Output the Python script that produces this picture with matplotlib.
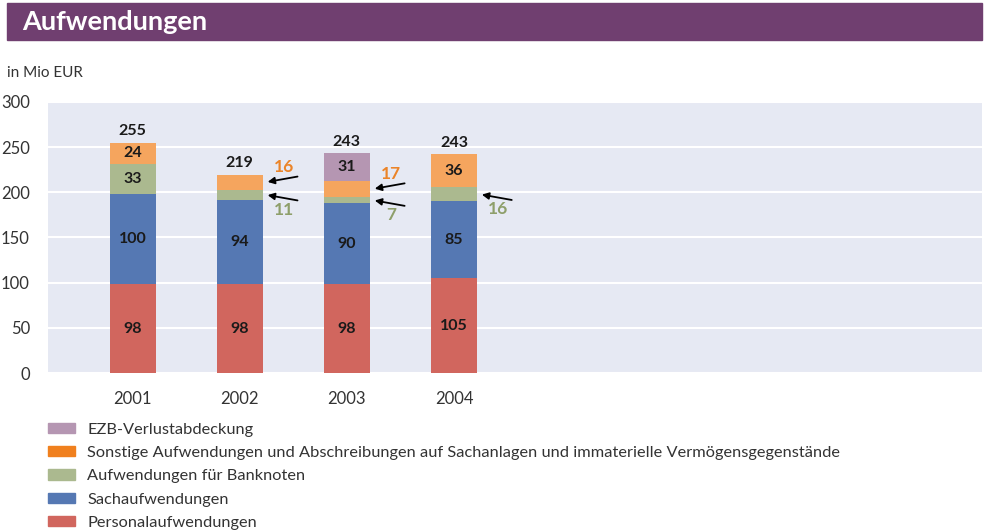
import numpy as np
import matplotlib.pyplot as plt
from matplotlib.patches import Patch, Rectangle

# ── Data ──────────────────────────────────────────────────────────────
years = ["2001", "2002", "2003", "2004"]
personal = [98, 98, 98, 105]
sach = [100, 94, 90, 85]
banknoten = [33, 11, 7, 16]
sonstige = [24, 16, 17, 36]
ezb = [0, 0, 31, 0]
totals = [255, 219, 243, 243]

legend_labels = [
    "EZB-Verlustabdeckung",
    "Sonstige Aufwendungen und Abschreibungen auf Sachanlagen und immaterielle Vermögensgegenstände",
    "Aufwendungen für Banknoten",
    "Sachaufwendungen",
    "Personalaufwendungen",
]

# ── Style ─────────────────────────────────────────────────────────────
plt.rcParams["font.family"] = ["Lato", "DejaVu Sans"]
C_PERS = "#D1665E"
C_SACH = "#5578B3"
C_BANK = "#ABB98F"
C_SONST = "#F5A55E"
C_EZB = "#B596B2"
C_SONST_LEG = "#F0801E"
C_ORANGE_TXT = "#EB8428"
C_GREEN_TXT = "#8E9F6A"
BG = "#E6E9F3"
PURPLE = "#703F70"

fig = plt.figure(figsize=(9.88, 5.31), dpi=100)

# title bar
fig.patches.append(Rectangle((7 / 988, 1 - 40 / 531), 975 / 988, 37 / 531,
                             transform=fig.transFigure, color=PURPLE, zorder=0))
fig.text(22 / 988, 1 - 22 / 531, "Aufwendungen", color="white", fontsize=19.5,
         fontweight="bold", va="center", ha="left")
fig.text(7 / 988, 1 - 73 / 531, "in Mio EUR", color="#333333", fontsize=11,
         va="center", ha="left")

ax = fig.add_axes([48 / 988, 1 - 373 / 531, 934 / 988, 271 / 531])
ax.set_facecolor(BG)
for s in ax.spines.values():
    s.set_visible(False)

x = np.arange(len(years))
w = 0.43
layers = [(personal, C_PERS), (sach, C_SACH), (banknoten, C_BANK),
          (sonstige, C_SONST), (ezb, C_EZB)]
bottom = np.zeros(len(years))
bottoms = []
for vals, col in layers:
    vals = np.array(vals, dtype=float)
    ax.bar(x, vals, w, bottom=bottom, color=col, zorder=3)
    bottoms.append(bottom.copy())
    bottom = bottom + vals

# inside labels (segments large enough)
for (vals, col), bot in zip(layers, bottoms):
    for i, v in enumerate(vals):
        if v >= 20:
            ax.text(x[i], bot[i] + v / 2, str(v), ha="center", va="center",
                    fontsize=11.5, fontweight="bold", color="#1a1a1a", zorder=4)

# totals above bars
for i, t in enumerate(totals):
    ax.text(x[i], bottom[i] + 13, str(t), ha="center", va="center",
            fontsize=11.5, fontweight="bold", color="#1a1a1a", zorder=4)

# outside labels with arrows for small segments
def callout(i, bot, v, text, color, up):
    yy = bot + v / 2
    dy = 7 if up else -7
    ax.annotate("", xy=(x[i] + w / 2 + 0.02, yy),
                xytext=(x[i] + w / 2 + 0.35, yy + dy),
                arrowprops=dict(arrowstyle="-|>", color="black", lw=1.3,
                                mutation_scale=10), zorder=5)
    ax.text(x[i] + w / 2 + 0.2, yy + (2.4 * dy), text, color=color,
            fontsize=12.5, fontweight="bold", ha="center", va="center")

for i in range(len(years)):
    if sonstige[i] < 20:
        callout(i, bottoms[3][i], sonstige[i], str(sonstige[i]), C_ORANGE_TXT, True)
    if banknoten[i] < 20:
        callout(i, bottoms[2][i], banknoten[i], str(banknoten[i]), C_GREEN_TXT, False)

ax.set_ylim(0, 300)
ax.set_xlim(-0.79, 7.93)
ax.set_yticks(np.arange(0, 301, 50))
ax.set_xticks(x)
ax.set_xticklabels(years)
ax.tick_params(axis="both", length=0, labelsize=12, colors="#333333")
ax.tick_params(axis="y", pad=13)
ax.tick_params(axis="x", pad=13)
ax.grid(axis="y", color="white", lw=1.5, zorder=1)
ax.set_axisbelow(True)

handles = [Patch(color=c) for c in [C_EZB, C_SONST_LEG, C_BANK, C_SACH, C_PERS]]
fig.legend(handles, legend_labels, loc="upper left",
           bbox_to_anchor=(41.5 / 988, 1 - 416 / 531), frameon=False,
           fontsize=11.8, handlelength=1.65, handleheight=0.6, handletextpad=0.73,
           labelspacing=0.57, borderaxespad=0, labelcolor="#333333")

plt.savefig("out.png", dpi=100)
